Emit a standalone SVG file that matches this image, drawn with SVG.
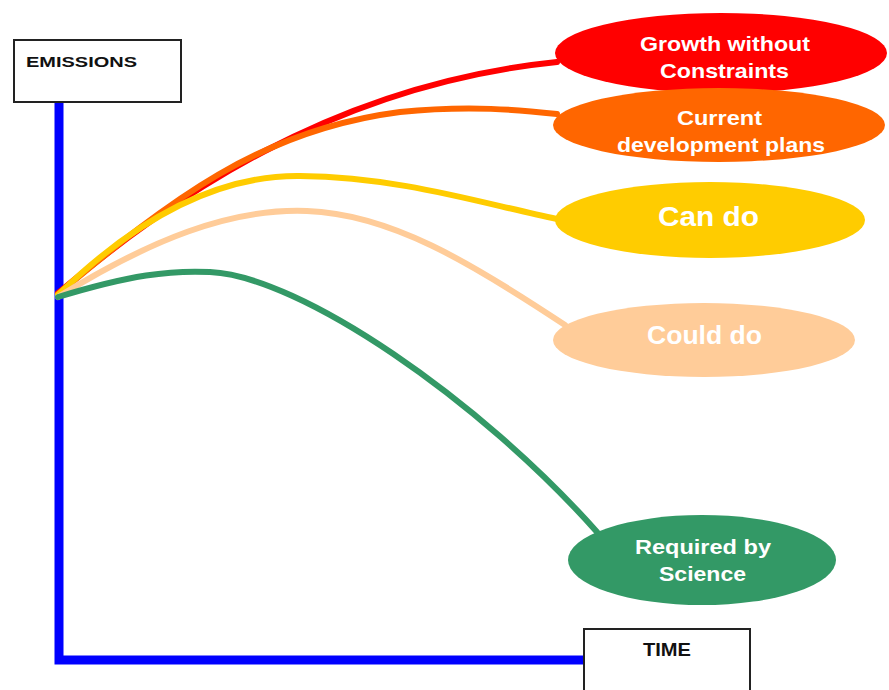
<svg xmlns="http://www.w3.org/2000/svg" width="889" height="690" viewBox="0 0 889 690">
<style>
.box{fill:#fff;stroke:#222;stroke-width:2}
.ax{fill:none;stroke:#0000ff;stroke-width:9}
.c{fill:none;stroke-width:6;stroke-linecap:round}
.lbl{font-family:"Liberation Sans",Arial,sans-serif;font-weight:bold;fill:#fff;text-anchor:middle}
.ttl{font-family:"Liberation Sans",Arial,sans-serif;font-weight:bold;fill:#111}
</style>
<rect width="889" height="690" fill="#fff"/>
<g id="axes">
<path class="ax" d="M59,102 V660 H585"/>
</g>
<g id="emissions"><rect class="box" x="14" y="40" width="167" height="62"/><text class="ttl" font-size="15" x="26" y="67" textLength="111" lengthAdjust="spacingAndGlyphs">EMISSIONS</text></g>
<g id="time"><rect class="box" x="584" y="629" width="166" height="70"/><text class="ttl" font-size="18" x="643" y="656" textLength="48" lengthAdjust="spacingAndGlyphs">TIME</text></g>
<g id="connectors">
<path class="c" stroke="#ff0000" d="M58,293 C170,200 330,85 557,62"/>
<path class="c" stroke="#ff6600" d="M58,294 C170,200 260,130 400,112 C470,105 520,110 557,114"/>
<path class="c" stroke="#ffcc00" d="M58,295 C140,215 220,175 300,176 C400,177 480,203 557,219"/>
<path class="c" stroke="#ffcc99" d="M58,297 C150,240 230,208 307,211 C390,214 470,262 565,325"/>
<path class="c" stroke="#339966" stroke-width="5" d="M58,297 C130,275 170,270 210,272 C300,276 480,400 597,532"/>
</g>
<g id="growth"><ellipse cx="721" cy="53" rx="166" ry="40" fill="#ff0000"/><text class="lbl" font-size="21" x="725" y="51" textLength="170" lengthAdjust="spacingAndGlyphs">Growth without</text><text class="lbl" font-size="21" x="724.5" y="78" textLength="129" lengthAdjust="spacingAndGlyphs">Constraints</text></g>
<g id="current"><ellipse cx="719" cy="125" rx="166" ry="37" fill="#ff6600"/><text class="lbl" font-size="21" x="719.5" y="125" textLength="85" lengthAdjust="spacingAndGlyphs">Current</text><text class="lbl" font-size="21" x="721" y="152" textLength="208" lengthAdjust="spacingAndGlyphs">development plans</text></g>
<g id="cando"><ellipse cx="710" cy="220" rx="155" ry="38" fill="#ffcc00"/><text class="lbl" font-size="28" x="708.5" y="226" textLength="101" lengthAdjust="spacingAndGlyphs">Can do</text></g>
<g id="coulddo"><ellipse cx="704" cy="340" rx="151" ry="37" fill="#ffcc99"/><text class="lbl" font-size="25" x="704.5" y="344" textLength="115" lengthAdjust="spacingAndGlyphs">Could do</text></g>
<g id="science"><ellipse cx="702" cy="560" rx="134" ry="45" fill="#339966"/><text class="lbl" font-size="21" x="703" y="554" textLength="136" lengthAdjust="spacingAndGlyphs">Required by</text><text class="lbl" font-size="21" x="702.5" y="581" textLength="87" lengthAdjust="spacingAndGlyphs">Science</text></g>
</svg>
